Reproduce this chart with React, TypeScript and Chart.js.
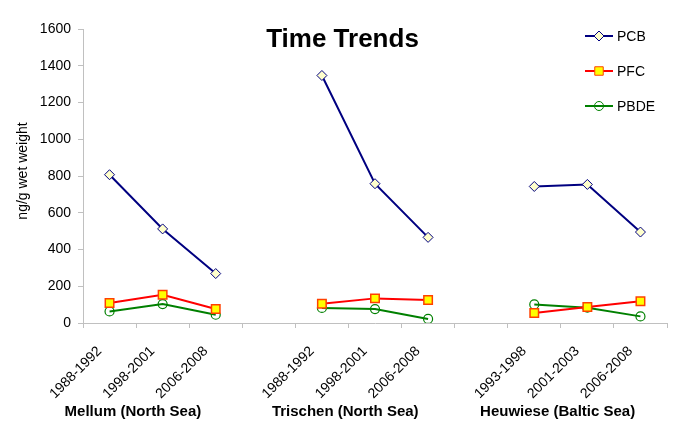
import React, { useEffect, useRef } from "react";
import { Chart, registerables } from "chart.js";

Chart.register(...registerables);

const categories = [
  "1988-1992", "1998-2001", "2006-2008", "",
  "1988-1992", "1998-2001", "2006-2008", "",
  "1993-1998", "2001-2003", "2006-2008",
];
const sites = ["Mellum (North Sea)", "Trischen (North Sea)", "Heuwiese (Baltic Sea)"];
const siteMiddleIndex = [1, 5, 9];

const pcb = [807, 512, 269, null, 1347, 758, 466, null, 743, 754, 495];
const pfc = [109, 154, 76, null, 105, 134, 125, null, 54, 87, 118];
const pbde = [63, 103, 45, null, 82, 76, 22, null, 101, 83, 36];

const yTicksMax = 1600;
const yStep = 200;

const FONT = "Arial, 'Liberation Sans', sans-serif";

const overlayPlugin = {
  id: "overlay",
  afterDraw(chart: any) {
    const ctx = chart.ctx;
    const x = chart.scales.x;
    ctx.save();
    ctx.fillStyle = "#000";
    // title
    ctx.font = `bold 26px ${FONT}`;
    ctx.textAlign = "center";
    ctx.textBaseline = "middle";
    ctx.fillText("Time Trends", chart.width / 2, 40);
    // y title
    ctx.save();
    ctx.translate(23, 171);
    ctx.rotate(-Math.PI / 2);
    ctx.font = `14px ${FONT}`;
    ctx.fillText("ng/g wet weight", 0, 0);
    ctx.restore();
    // group labels
    const cw = x.getPixelForValue(1) - x.getPixelForValue(0);
    ctx.font = `bold 15px ${FONT}`;
    sites.forEach((s, i) => {
      const cx = x.getPixelForValue(siteMiddleIndex[i]) - 0.56 * cw;
      ctx.fillText(s, cx, 412);
    });
    // legend
    const items = chart.data.datasets;
    items.forEach((ds: any, i: number) => {
      const yy = 36 + i * 35;
      ctx.strokeStyle = ds.borderColor;
      ctx.lineWidth = 2;
      ctx.beginPath();
      ctx.moveTo(585, yy);
      ctx.lineTo(613, yy);
      ctx.stroke();
      ctx.fillStyle = ds.pointBackgroundColor;
      ctx.strokeStyle = ds.pointBorderColor;
      ctx.lineWidth = 1;
      const r = ds.pointRadius;
      ctx.beginPath();
      if (ds.pointStyle === "rectRot") {
        ctx.moveTo(599, yy - r);
        ctx.lineTo(599 + r, yy);
        ctx.lineTo(599, yy + r);
        ctx.lineTo(599 - r, yy);
        ctx.closePath();
      } else if (ds.pointStyle === "rect") {
        const h = r / Math.SQRT2;
        ctx.rect(599 - h, yy - h, 2 * h, 2 * h);
      } else {
        ctx.arc(599, yy, r, 0, Math.PI * 2);
      }
      ctx.fill();
      ctx.stroke();
      ctx.fillStyle = "#000";
      ctx.font = `14px ${FONT}`;
      ctx.textAlign = "left";
      ctx.fillText(ds.label, 617, yy + 1);
    });
    ctx.restore();
  },
};

export default function App() {
  const ref = useRef<HTMLCanvasElement>(null);
  useEffect(() => {
    document.body.style.margin = "0";
    const chart = new Chart(ref.current!, {
      type: "line",
      data: {
        labels: categories,
        datasets: [
          {
            label: "PCB",
            data: pcb,
            borderColor: "#000080",
            borderWidth: 2,
            pointStyle: "rectRot",
            pointRadius: 5,
            pointBackgroundColor: "#ffffcc",
            pointBorderColor: "#000080",
            pointBorderWidth: 1,
            spanGaps: false,
          },
          {
            label: "PFC",
            data: pfc,
            borderColor: "#ff0000",
            borderWidth: 2,
            pointStyle: "rect",
            pointRadius: 6,
            pointBackgroundColor: "#ffff00",
            pointBorderColor: "#ff4000",
            pointBorderWidth: 1.5,
            spanGaps: false,
          },
          {
            label: "PBDE",
            data: pbde,
            borderColor: "#008000",
            borderWidth: 2,
            pointStyle: "circle",
            pointRadius: 4.5,
            pointBackgroundColor: "rgba(255,255,255,0)",
            pointBorderColor: "#008000",
            pointBorderWidth: 1.2,
            spanGaps: false,
          },
        ],
      },
      options: {
        responsive: false,
        animation: false,
        devicePixelRatio: 1,
        layout: { padding: { top: 29, right: 18, left: 0, bottom: 0 } },
        plugins: { legend: { display: false }, title: { display: false }, tooltip: { enabled: false } },
        scales: {
          x: {
            type: "category",
            offset: true,
            afterFit(scale: any) {
              scale.height = 115;
            },
            grid: {
              offset: true,
              drawOnChartArea: false,
              drawTicks: true,
              tickLength: 5,
              color: "#c0c0c0",
            },
            border: { color: "#c0c0c0", width: 1 },
            ticks: {
              autoSkip: false,
              maxRotation: 45,
              minRotation: 45,
              color: "#000",
              font: { family: FONT, size: 14 },
              padding: 15,
              labelOffset: -10,
            },
          },
          y: {
            min: 0,
            max: yTicksMax,
            afterFit(scale: any) {
              scale.width = 83;
            },
            grid: {
              drawOnChartArea: false,
              drawTicks: true,
              tickLength: 5,
              color: "#c0c0c0",
            },
            border: { color: "#c0c0c0", width: 1 },
            ticks: {
              stepSize: yStep,
              color: "#000",
              font: { family: FONT, size: 14 },
              padding: 7,
              callback: (v: any) => String(v),
            },
          },
        },
      },
      plugins: [overlayPlugin],
    } as any);
    return () => chart.destroy();
  }, []);
  return <canvas ref={ref} width={685} height={438} style={{ display: "block" }} />;
}
